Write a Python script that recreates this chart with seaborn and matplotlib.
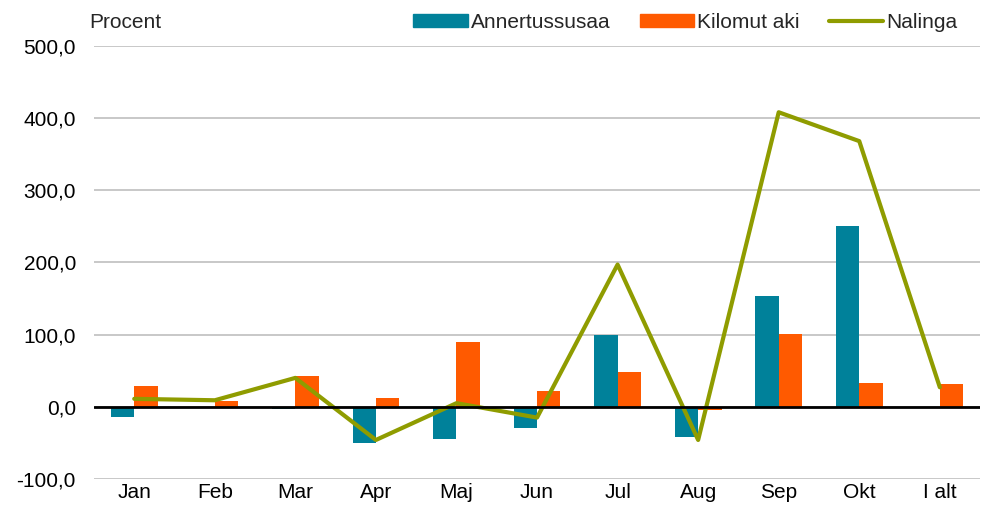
import numpy as np
import pandas as pd
import matplotlib
matplotlib.use("Agg")
import matplotlib.pyplot as plt
from matplotlib.patches import Patch
from matplotlib.lines import Line2D
import seaborn as sns

# data
maaneder = ["Jan", "Feb", "Mar", "Apr", "Maj", "Jun", "Jul", "Aug", "Sep", "Okt", "I alt"]
annertussusaa = [-14, 0, -3, -50, -44, -30, 100, -42, 153, 250, -2]
kilomut_aki = [29, 8, 43, 12, 90, 22, 48, -4, 101, 33, 31]
nalinga = [11, 9, 40, -46, 5, -15, 197, -46, 408, 368, 27]

serier = ["Annertussusaa", "Kilomut aki"]
farver = {"Annertussusaa": "#00819A", "Kilomut aki": "#FF5A00"}
linjefarve = "#8F9C00"

df = pd.DataFrame({
    "maaned": maaneder * 2,
    "vaerdi": annertussusaa + kilomut_aki,
    "serie": [serier[0]] * len(maaneder) + [serier[1]] * len(maaneder),
})

sns.set_style("white")
plt.rcParams["font.family"] = ["Liberation Sans", "DejaVu Sans"]

fig = plt.figure(figsize=(9.89, 5.15), dpi=100)
ax = fig.add_axes([0.095, 0.070, 0.896, 0.841])

sns.barplot(data=df, x="maaned", y="vaerdi", hue="serie", palette=farver,
            width=0.58, saturation=1, legend=False, linewidth=0, ax=ax, zorder=3)
sns.pointplot(x=maaneder, y=nalinga, color=linjefarve, markers="",
              linewidth=3, ax=ax, zorder=4)

ax.set_ylim(-100, 500)
ax.set_xlim(-0.5, len(maaneder) - 0.5)
ax.set_yticks(np.arange(-100, 501, 100))
ax.set_yticklabels([f"{v:.1f}".replace(".", ",") for v in np.arange(-100, 501, 100)])
ax.yaxis.grid(True, color="#BFBFBF", linewidth=1.2, zorder=0)
ax.set_axisbelow(True)
ax.axhline(0, color="black", linewidth=2, zorder=5)
for s in ax.spines.values():
    s.set_visible(False)
ax.tick_params(axis="y", length=0, labelsize=15, colors="black", pad=13)
ax.tick_params(axis="x", length=0, labelsize=15, colors="black", pad=3)
ax.set_xlabel("")
ax.set_ylabel("")

fig.text(0.09, 0.957, "Procent", fontsize=15, va="center", ha="left")

handles = [Patch(color=farver[serier[0]]), Patch(color=farver[serier[1]]),
           Line2D([], [], color=linjefarve, linewidth=3)]
fig.legend(handles, ["Annertussusaa", "Kilomut aki", "Nalinga"], ncol=3,
           loc="center right", bbox_to_anchor=(0.976, 0.957), frameon=False,
           fontsize=15, handlelength=2.6, handleheight=0.6, handletextpad=0.15,
           columnspacing=1.4, borderaxespad=0)

fig.savefig("out.png", dpi=100)
